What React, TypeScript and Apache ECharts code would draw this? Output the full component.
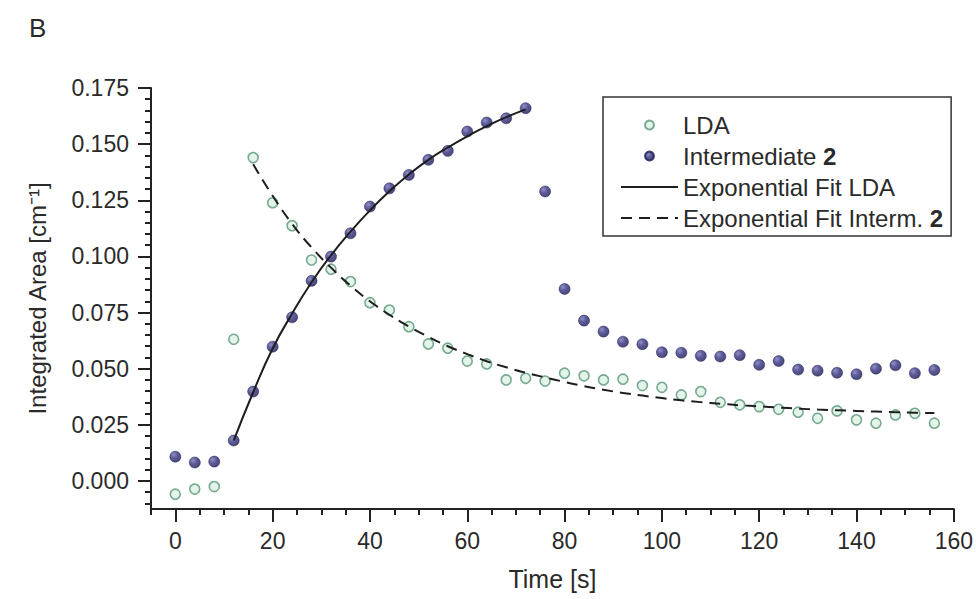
import React, { useEffect, useRef } from "react";
import * as echarts from "echarts";

const timeLDA = [0, 4, 8, 12, 16, 20, 24, 28, 32, 36, 40, 44, 48, 52, 56, 60, 64, 68, 72, 76, 80, 84, 88, 92, 96, 100, 104, 108, 112, 116, 120, 124, 128, 132, 136, 140, 144, 148, 152, 156];
const valLDA = [-0.0059, -0.0036, -0.0025, 0.0631, 0.1440, 0.1239, 0.1137, 0.0984, 0.0943, 0.0888, 0.0794, 0.0761, 0.0687, 0.0610, 0.0591, 0.0534, 0.0521, 0.0450, 0.0457, 0.0445, 0.0480, 0.0468, 0.0450, 0.0453, 0.0425, 0.0417, 0.0383, 0.0398, 0.0350, 0.0339, 0.0331, 0.0319, 0.0306, 0.0279, 0.0312, 0.0272, 0.0257, 0.0294, 0.0301, 0.0257];

const timeInt = [0, 4, 8, 12, 16, 20, 24, 28, 32, 36, 40, 44, 48, 52, 56, 60, 64, 68, 72, 76, 80, 84, 88, 92, 96, 100, 104, 108, 112, 116, 120, 124, 128, 132, 136, 140, 144, 148, 152, 156];
const valInt = [0.0108, 0.0082, 0.0086, 0.0180, 0.0398, 0.0598, 0.0729, 0.0891, 0.0999, 0.1103, 0.1222, 0.1303, 0.1363, 0.1430, 0.1470, 0.1556, 0.1596, 0.1615, 0.1660, 0.1289, 0.0855, 0.0714, 0.0665, 0.0620, 0.0609, 0.0573, 0.0571, 0.0557, 0.0554, 0.0560, 0.0517, 0.0534, 0.0496, 0.0491, 0.0482, 0.0475, 0.0500, 0.0515, 0.0480, 0.0494];

const timeFitLDA = [12, 16, 20, 24, 28, 32, 36, 40, 44, 48, 52, 56, 60, 64, 68, 72];
const valFitLDA = [0.0180, 0.0395, 0.0590, 0.0745, 0.0885, 0.1005, 0.1110, 0.1205, 0.1290, 0.1365, 0.1430, 0.1485, 0.1535, 0.1580, 0.1620, 0.1655];

const timeFitInt = [16, 20, 24, 28, 32, 36, 40, 44, 48, 52, 56, 60, 64, 68, 72, 76, 80, 84, 88, 92, 96, 100, 104, 108, 112, 116, 120, 124, 128, 132, 136, 140, 144, 148, 152, 156];
const valFitInt = [0.1410, 0.1270, 0.1145, 0.1040, 0.0950, 0.0870, 0.0800, 0.0740, 0.0688, 0.0642, 0.0600, 0.0565, 0.0533, 0.0506, 0.0482, 0.0461, 0.0441, 0.0422, 0.0406, 0.0392, 0.0380, 0.0369, 0.0359, 0.0351, 0.0344, 0.0337, 0.0332, 0.0327, 0.0322, 0.0318, 0.0315, 0.0312, 0.0309, 0.0306, 0.0304, 0.0302];

const xMajorTicks = [0, 20, 40, 60, 80, 100, 120, 140, 160];
const xMinorTicks = [-5, 5, 10, 15, 25, 30, 35, 45, 50, 55, 65, 70, 75, 85, 90, 95, 105, 110, 115, 125, 130, 135, 145, 150, 155];
const yMajorTicks = [0, 0.025, 0.05, 0.075, 0.1, 0.125, 0.15, 0.175];
const yMinorTicks = [-0.01, -0.005, 0.005, 0.01, 0.015, 0.02, 0.03, 0.035, 0.04, 0.045, 0.055, 0.06, 0.065, 0.07, 0.08, 0.085, 0.09, 0.095, 0.105, 0.11, 0.115, 0.12, 0.13, 0.135, 0.14, 0.145, 0.155, 0.16, 0.165, 0.17];

const FONT = "'Liberation Sans', Arial, Helvetica, sans-serif";
const AXIS_COLOR = "#222";
const TEXT_COLOR = "#2a2a2a";

const zip = (xs: number[], ys: number[]) => xs.map((x, i) => [x, ys[i]]);

export default function App() {
  const ref = useRef<HTMLDivElement>(null);

  useEffect(() => {
    if (!ref.current) return;
    const chart = echarts.init(ref.current, undefined, { renderer: "svg" });

    const intFill = new echarts.graphic.RadialGradient(0.35, 0.32, 0.75, [
      { offset: 0, color: "#7474b8" },
      { offset: 0.45, color: "#33317f" },
      { offset: 1, color: "#1a1850" },
    ]);

    const xBase = {
      type: "value",
      min: -5,
      max: 160,
      splitLine: { show: false },
    };
    const yBase = {
      type: "value",
      min: -0.0125,
      max: 0.175,
      splitLine: { show: false },
    };

    const hiddenSymbol = { color: "rgba(0,0,0,0)", borderWidth: 0, opacity: 0 };

    chart.setOption({
      animation: false,
      backgroundColor: "#ffffff",
      textStyle: { fontFamily: FONT },
      title: {
        text: "B",
        left: 24,
        top: 10,
        textStyle: { fontFamily: FONT, fontSize: 26, fontWeight: "normal", color: TEXT_COLOR },
      },
      grid: { left: 151, right: 21, top: 88, bottom: 90, containLabel: false },
      legend: {
        orient: "vertical",
        left: 603,
        top: 97,
        padding: [16, 8, 6, 17],
        borderColor: "#333",
        borderWidth: 1.5,
        itemWidth: 57,
        itemHeight: 9,
        itemGap: 7,
        textStyle: {
          fontFamily: FONT,
          fontSize: 24,
          color: TEXT_COLOR,
          lineHeight: 23,
          rich: {
            n: { fontFamily: FONT, fontSize: 24, color: TEXT_COLOR },
            b: { fontFamily: FONT, fontSize: 24, fontWeight: "bold", color: TEXT_COLOR },
          },
        },
        formatter: (name: string) => {
          if (name.endsWith(" 2")) {
            return "{n|" + name.slice(0, -1) + "}{b|2}";
          }
          return "{n|" + name + "}";
        },
        data: [
          { name: "LDA" },
          { name: "Intermediate 2" },
          { name: "Exponential Fit LDA", itemStyle: hiddenSymbol },
          { name: "Exponential Fit Interm. 2", itemStyle: hiddenSymbol },
        ],
      },
      xAxis: [
        {
          ...xBase,
          name: "Time [s]",
          nameLocation: "middle",
          nameGap: 57,
          nameTextStyle: { fontFamily: FONT, fontSize: 25, color: TEXT_COLOR },
          axisLine: { show: true, onZero: false, lineStyle: { color: AXIS_COLOR, width: 2 } },
          axisTick: {
            show: true,
            inside: false,
            length: 13,
            customValues: xMajorTicks,
            lineStyle: { color: AXIS_COLOR, width: 2 },
          },
          axisLabel: {
            show: true,
            customValues: xMajorTicks,
            margin: 20,
            fontFamily: FONT,
            fontSize: 23,
            color: TEXT_COLOR,
          },
        },
        {
          ...xBase,
          position: "bottom",
          axisLine: { show: false, onZero: false },
          axisTick: {
            show: true,
            inside: false,
            length: 6,
            customValues: xMinorTicks,
            lineStyle: { color: AXIS_COLOR, width: 2 },
          },
          axisLabel: { show: false },
        },
      ],
      yAxis: [
        {
          ...yBase,
          name: "Integrated Area [cm⁻¹]",
          nameLocation: "middle",
          nameRotate: 90,
          nameGap: 102,
          nameTextStyle: { fontFamily: FONT, fontSize: 24, color: TEXT_COLOR },
          axisLine: { show: true, onZero: false, lineStyle: { color: AXIS_COLOR, width: 2 } },
          axisTick: {
            show: true,
            inside: false,
            length: 13,
            customValues: yMajorTicks,
            lineStyle: { color: AXIS_COLOR, width: 2 },
          },
          axisLabel: {
            show: true,
            customValues: yMajorTicks,
            margin: 22,
            fontFamily: FONT,
            fontSize: 23,
            color: TEXT_COLOR,
            formatter: (v: number) => v.toFixed(3),
          },
        },
        {
          ...yBase,
          position: "left",
          axisLine: { show: false, onZero: false },
          axisTick: {
            show: true,
            inside: false,
            length: 6,
            customValues: yMinorTicks,
            lineStyle: { color: AXIS_COLOR, width: 2 },
          },
          axisLabel: { show: false },
        },
      ],
      series: [
        {
          name: "LDA",
          type: "scatter",
          data: zip(timeLDA, valLDA),
          symbol: "circle",
          symbolSize: 10,
          z: 2,
          itemStyle: { color: "#dcf1e4", borderColor: "#5a9678", borderWidth: 1.6 },
        },
        {
          name: "Intermediate 2",
          type: "scatter",
          data: zip(timeInt, valInt),
          symbol: "circle",
          symbolSize: 11,
          z: 2,
          itemStyle: { color: intFill, borderColor: "#1c1a55", borderWidth: 0.6 },
        },
        {
          name: "Exponential Fit LDA",
          type: "line",
          data: zip(timeFitLDA, valFitLDA),
          smooth: true,
          symbol: "none",
          z: 3,
          lineStyle: { color: "#1e1e1e", width: 2, type: "solid" },
          itemStyle: { color: "#1e1e1e" },
        },
        {
          name: "Exponential Fit Interm. 2",
          type: "line",
          data: zip(timeFitInt, valFitInt),
          smooth: true,
          symbol: "none",
          z: 3,
          lineStyle: { color: "#1e1e1e", width: 2, type: [11, 7] },
          itemStyle: { color: "#1e1e1e" },
        },
      ],
    });

    return () => {
      chart.dispose();
    };
  }, []);

  return (
    <div
      ref={ref}
      style={{ position: "fixed", left: 0, top: 0, width: 976, height: 599, background: "#fff" }}
    />
  );
}
